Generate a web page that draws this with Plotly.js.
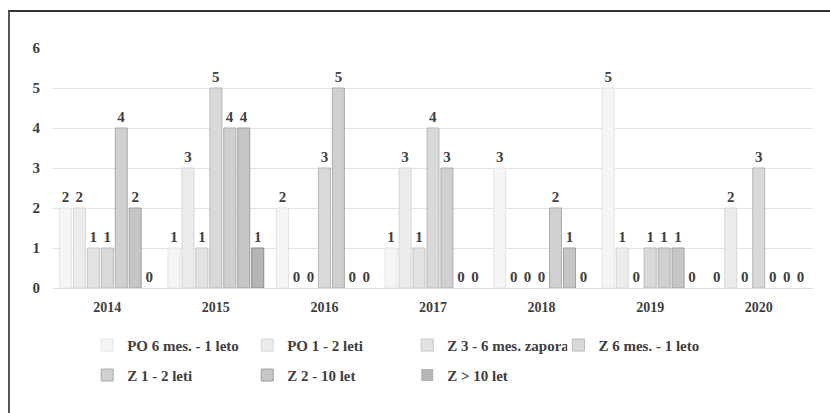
<!DOCTYPE html>
<html>
<head>
<meta charset="utf-8">
<script src="https://cdn.plot.ly/plotly-3.0.1.min.js"></script>
<style>
  html, body { margin: 0; padding: 0; background: #ffffff; }
  #wrap { position: relative; width: 830px; height: 413px; overflow: hidden; }
  #chart { position: absolute; left: 0; top: 0; width: 830px; height: 413px; }
  #frame { position: absolute; left: 8px; top: 10px; width: 840px; height: 420px;
           border-top: 2px solid #333333; border-left: 2px solid #555555; pointer-events: none; }
</style>
</head>
<body>
<div id="wrap">
  <div id="chart"></div>
  <div id="frame"></div>
</div>
<script>
const years = ['2014', '2015', '2016', '2017', '2018', '2019', '2020'];
const seriesNames = ['PO 6 mes. - 1 leto', 'PO 1 - 2 leti', 'Z 3 - 6 mes. zapora', 'Z 6 mes. - 1 leto',
                     'Z 1 - 2 leti', 'Z 2 - 10 let', 'Z > 10 let'];
const po6m1l   = [2, 1, 2, 1, 3, 5, 0];
const po1_2    = [2, 3, 0, 3, 0, 1, 2];
const z3_6m    = [1, 1, 0, 1, 0, 0, 0];
const z6m_1l   = [1, 5, 3, 4, 0, 1, 3];
const z1_2     = [4, 4, 5, 3, 2, 1, 0];
const z2_10    = [2, 4, 0, 0, 1, 1, 0];
const zOver10  = [0, 1, 0, 0, 0, 0, 0];
const seriesValues = [po6m1l, po1_2, z3_6m, z6m_1l, z1_2, z2_10, zOver10];

const fills = ['#f5f5f5', '#ececec', '#e2e2e2', '#d9d9d9', '#d0d0d0', '#c6c6c6', '#b5b5b5'];
const lines = ['#e4e4e4', '#d6d6d6', '#c6c6c6', '#b9b9b9', '#acacac', '#a0a0a0', '#888888'];
const legendOf = ['legend', 'legend', 'legend', 'legend3', 'legend2', 'legend2', 'legend2'];
const FONT = 'Liberation Serif';

const traces = seriesValues.map((vals, i) => ({
  type: 'bar',
  name: seriesNames[i],
  legend: legendOf[i],
  x: years,
  y: vals,
  text: vals.map(String),
  textposition: 'outside',
  cliponaxis: false,
  textfont: { family: FONT, size: 15, color: '#404040', weight: 'bold' },
  marker: { color: fills[i], line: { color: lines[i], width: vals.map(v => v === 0 ? 0 : 1) } },
  hoverinfo: 'x+y+name'
}));

const legendCommon = {
  orientation: 'h',
  xanchor: 'left',
  yanchor: 'top',
  entrywidth: 115,
  entrywidthmode: 'pixels',
  traceorder: 'normal',
  font: { family: FONT, size: 15, color: '#404040', weight: 'bold' },
  bgcolor: 'rgba(0,0,0,0)',
  borderwidth: 0
};

const layout = {
  width: 830,
  height: 413,
  margin: { l: 53, r: 17, t: 48, b: 125 },
  paper_bgcolor: '#ffffff',
  plot_bgcolor: '#ffffff',
  barmode: 'group',
  bargap: 0.1,
  bargroupgap: 0.14,
  showlegend: true,
  font: { family: FONT, color: '#404040' },
  xaxis: {
    type: 'category',
    showgrid: false,
    zeroline: false,
    showline: false,
    ticks: '',
    ticklabelstandoff: 9,
    tickfont: { family: FONT, size: 14, color: '#404040', weight: 'bold' }
  },
  yaxis: {
    range: [0, 6],
    dtick: 1,
    tick0: 0,
    showgrid: true,
    gridcolor: '#e2e2e2',
    gridwidth: 1,
    zeroline: true,
    zerolinecolor: '#dcdcdc',
    zerolinewidth: 1,
    showline: false,
    ticks: '',
    ticklabelstandoff: 12,
    tickfont: { family: FONT, size: 15, color: '#404040', weight: 'bold' },
    fixedrange: true
  },
  legend: Object.assign({}, legendCommon, { x: 0.045, y: -0.17 }),
  legend3: Object.assign({}, legendCommon, { x: 0.665, y: -0.17 }),
  legend2: Object.assign({}, legendCommon, { x: 0.045, y: -0.295 })
};

Plotly.newPlot('chart', traces, layout, { displayModeBar: false, staticPlot: true });
</script>
</body>
</html>
